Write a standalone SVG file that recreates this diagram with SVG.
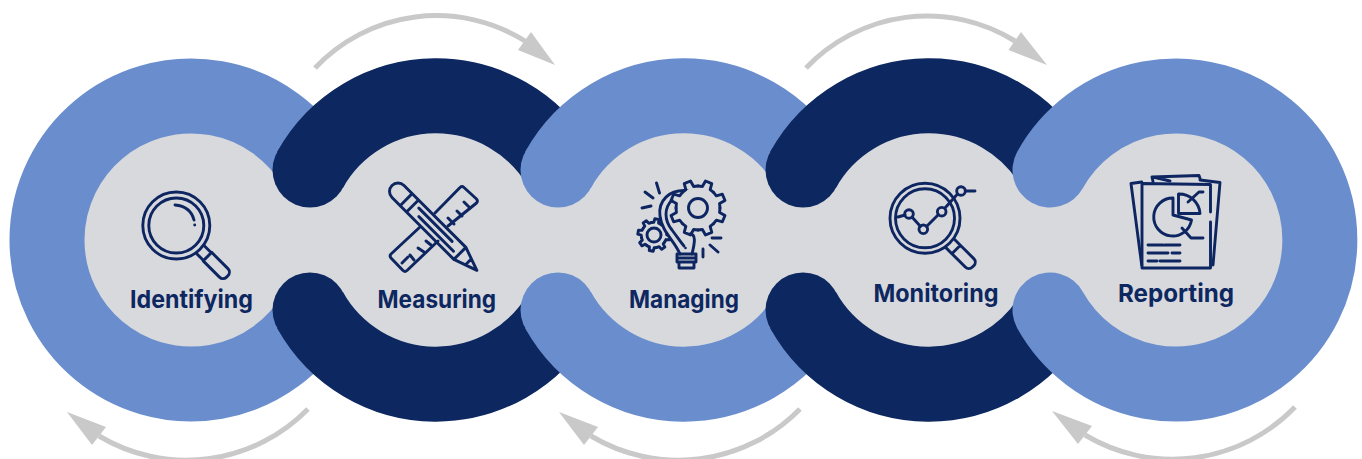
<svg xmlns="http://www.w3.org/2000/svg" xmlns:xlink="http://www.w3.org/1999/xlink" width="1362" height="459" viewBox="0 0 1362 459">
<style>
.ring{fill:none;stroke-width:75}
.blue{stroke:#6a8ecd}
.navy{stroke:#0d2760}
.capb{fill:#6a8ecd}
.capn{fill:#0d2760}
.ic{fill:none;stroke:#0d2560;stroke-width:2.9;stroke-linecap:round;stroke-linejoin:round}
.mask{fill:#d8d9dd}
.lab{font-family:"Inter","Liberation Sans",sans-serif;font-size:24.5px;font-weight:700;fill:#0d2760;text-anchor:start}
.arc{fill:none;stroke:#c9c9c9;stroke-width:5}
.head{fill:#c9c9c9}
</style>
<defs>
<path id="t" d="M-8.42 -20.33L-4.2 -21.6L-3.4 -27.8L3.4 -27.8L4.2 -21.6L8.42 -20.33" vector-effect="non-scaling-stroke"/>
<g id="gear">
<use xlink:href="#t" href="#t"/>
<use xlink:href="#t" href="#t" transform="rotate(45)"/>
<use xlink:href="#t" href="#t" transform="rotate(90)"/>
<use xlink:href="#t" href="#t" transform="rotate(135)"/>
<use xlink:href="#t" href="#t" transform="rotate(180)"/>
<use xlink:href="#t" href="#t" transform="rotate(225)"/>
<use xlink:href="#t" href="#t" transform="rotate(270)"/>
<use xlink:href="#t" href="#t" transform="rotate(315)"/>
</g>
</defs>
<rect width="1362" height="459" fill="#fff"/>
<g id="band" fill="#d8d9dd">
<rect x="190" y="170" width="986" height="140"/>
<circle cx="190" cy="240" r="108"/><circle cx="436" cy="240" r="108"/><circle cx="684" cy="240" r="108"/><circle cx="929" cy="240" r="108"/><circle cx="1176" cy="240" r="108"/>
</g>
<g id="node-identifying">
<path class="ring blue" d="M315.700 168A144 144 0 1 0 315.700 312"/>
<g class="ic" transform="translate(176.300 225.500) rotate(45)">
<circle r="33.500"/><circle r="27.500"/>
<path d="M34 -5.500H44V5.500H34M44 -6H67a5 5 0 0 1 5 5V1a5 5 0 0 1 -5 5H44Z"/>
</g>
<path class="ic" d="M175 205C186 206 192 212 194 220M194.700 225v.1"/>
<text class="lab" x="130" y="308" textLength="123" lengthAdjust="spacingAndGlyphs">Identifying</text>
</g>
<g id="node-measuring">
<path class="ring navy" d="M310 170A144 144 0 0 1 560.700 168M310 310A144 144 0 0 0 560.700 312"/>
<circle class="capn" cx="310" cy="170" r="37.500"/><circle class="capn" cx="310" cy="310" r="37.500"/>
<path class="ic" d="M435 213L460 187.500a3 3 0 0 1 4 0L476.500 199a3 3 0 0 1 0 4L448 226M420 227L391 254a3 3 0 0 0 0 4L403 270.500a3 3 0 0 0 4 0L438 241"/>
<path class="ic" d="M470 208L464 202M462 216L457 211M454 224L448 218M402 263L408 257M410 255L414 260M418 248L424 252M426 241L431 245"/>
<g class="ic" transform="translate(392 185.500) rotate(45)">
<path d="M96 -8.500H8.500a8.500 8.500 0 0 0 0 17H96M96 -8.500L120 0L96 8.500ZM108 -4V4M20 -8.500V8.500M29 -8.500V8.500M35 -3H82M41 3H90"/>
</g>
<text class="lab" x="377.500" y="308" textLength="118.500" lengthAdjust="spacingAndGlyphs">Measuring</text>
</g>
<g id="node-managing">
<path class="ring blue" d="M558 170A144 144 0 0 1 808.700 168M558 310A144 144 0 0 0 808.700 312"/>
<circle class="capb" cx="558" cy="170" r="37.500"/><circle class="capb" cx="558" cy="310" r="37.500"/>
<g class="ic" transform="translate(654 235) scale(.58)"><use xlink:href="#gear" href="#gear" transform="rotate(10)"/></g>
<circle class="ic" cx="654" cy="235" r="7"/>
<path class="mask" d="M690 190C668 188 658 202 660 218C662 232 672 240 678 250L678 254H692C693 244 696 240 702 234Z"/>
<path class="ic" d="M690 191C668 188 658 202 660 216C662 232 674 240 680 254M690 234C696 234 695 242 692 254M672 200C664 208 664 220 672 230C678 238 682 244 684 246"/>
<path class="ic" d="M677 254H696V262H677ZM677 258H696M679 262V268H694V262"/>
<circle cx="685.500" cy="248" r="1.300" fill="#0d2560"/>
<g class="ic" transform="translate(698 208)"><circle class="mask" r="21" style="stroke:none"/><use xlink:href="#gear" href="#gear" transform="rotate(22.500)"/><circle r="9.500"/></g>
<path class="ic" d="M656.500 183L659.500 193M645 192L653 198M642 208L651 206M712 238H721M710 245L718 252M703 249V257"/>
<text class="lab" x="629" y="308" textLength="110" lengthAdjust="spacingAndGlyphs">Managing</text>
</g>
<g id="node-monitoring">
<path class="ring navy" d="M803 170A144 144 0 0 1 1053.700 168M803 310A144 144 0 0 0 1053.700 312"/>
<circle class="capn" cx="803" cy="170" r="37.500"/><circle class="capn" cx="803" cy="310" r="37.500"/>
<g class="ic" transform="translate(925 218.300) rotate(45)">
<circle r="35"/><circle r="29.500"/>
<path d="M35.500 -6H44V6H35.500M44 -6H63a5 5 0 0 1 5 5V1a5 5 0 0 1 -5 5H44Z"/>
</g>
<path class="ic" d="M898 217L905 215M912 217L920.500 226.500M926.500 226.500L938.500 214.500M945 208L957.500 194M965.500 191H975"/>
<circle class="ic" cx="909" cy="214" r="4.300"/><circle class="ic" cx="923.300" cy="229.300" r="4.300"/><circle class="ic" cx="941.700" cy="211.700" r="4.300"/><circle class="ic" cx="961" cy="191" r="4.300"/>
<text class="lab" x="873.500" y="302" textLength="125" lengthAdjust="spacingAndGlyphs">Monitoring</text>
</g>
<g id="node-reporting">
<path class="ring blue" stroke-linecap="round" d="M1050 170A144 144 0 1 1 1050 310"/>
<g class="ic">
<path d="M1141.700 182L1131 183.500L1141.700 265M1153 181.500L1152 177L1199 175.500L1200.500 180M1153 177L1170 181M1200 180L1220 182.500L1213 265"/>
<path d="M1210.500 212V184.500L1142 183.500V268H1210.500V222"/>
<path d="M1173 198A19 19 0 1 0 1191.500 220L1173 215Z"/>
<path d="M1178.500 194V213.500H1200A21 21 0 0 0 1178.500 194ZM1188 202L1199 192H1203M1182 228L1191 238H1203"/>
<path d="M1148 245H1163M1165 245H1180M1148 253H1168M1172 253H1180M1148 261H1157M1160 261H1180"/>
</g>
<text class="lab" x="1118" y="302" textLength="116" lengthAdjust="spacingAndGlyphs">Reporting</text>
</g>
<g id="connectors">
<path class="arc" d="M315 68A167 167 0 0 1 525 41"/><polygon class="head" points="555,65 531,32 518,50"/>
<path class="arc" d="M806 68A167 167 0 0 1 1015 41"/><polygon class="head" points="1047,65 1021,32 1008.500,50"/>
<path class="arc" d="M308 409A170 170 0 0 1 99 436"/><polygon class="head" points="67,412 92,445 106,427"/>
<path class="arc" d="M800 409A170 170 0 0 1 591 436"/><polygon class="head" points="559,412 584,445 598,427"/>
<path class="arc" d="M1295 407A170 170 0 0 1 1085 435"/><polygon class="head" points="1052,411 1078,444 1092,426"/>
</g>
</svg>
